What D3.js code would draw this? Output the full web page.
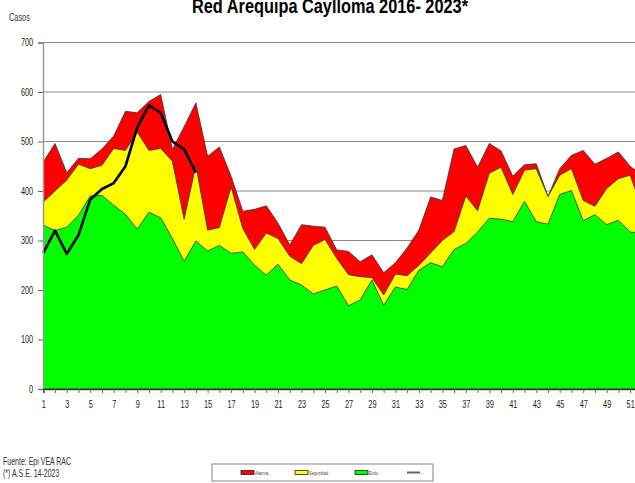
<!DOCTYPE html>
<html>
<head>
<meta charset="utf-8">
<script src="https://cdn.jsdelivr.net/npm/d3@7"></script>
<style>
  body { margin: 0; background: #fff; }
  text { font-family: "Liberation Sans", Arial, sans-serif; }
</style>
</head>
<body>
<div class="chart"></div>
<script>
// semanas epidemiologicas
const semanas = d3.range(1, 53);
const alarma = [459, 496, 437, 466, 465, 485, 511, 561, 558, 581, 595, 484, 530, 578, 470, 489,
                430, 359, 363, 370, 335, 291, 332, 329, 327, 281, 278, 257, 271, 235, 255, 285,
                321, 388, 381, 485, 492, 448, 496, 481, 430, 453, 455, 389, 445, 472, 482, 454,
                466, 479, 450, 432];
const seguridad = [378, 400, 422, 454, 445, 452, 486, 482, 519, 482, 486, 460, 343, 452, 321, 326,
                   408, 324, 282, 315, 304, 268, 253, 290, 302, 264, 231, 227, 225, 190, 232, 229,
                   250, 275, 300, 318, 390, 360, 436, 448, 393, 442, 445, 389, 432, 445, 381, 369,
                   405, 425, 432, 365];
const exito = [331, 320, 327, 351, 390, 391, 371, 353, 323, 357, 346, 304, 258, 299, 279, 290,
               274, 277, 250, 230, 252, 220, 210, 192, 200, 208, 168, 180, 220, 169, 206, 201,
               240, 255, 247, 282, 294, 317, 345, 343, 338, 379, 338, 333, 393, 401, 340, 352,
               332, 341, 317, 315];
const casos2023 = [275, 320, 273, 311, 383, 404, 416, 450, 528, 573, 558, 500, 484, 437];
const yTicks = [0, 100, 200, 300, 400, 500, 600, 700];
const xTicks = d3.range(1, 52, 2);
const leyenda = ["Alarma", "Seguridad", "Exito", "-"];
const colores = ["#ff0000", "#ffff00", "#00ff00"];

const width = 635, height = 483;
const narrow = 0.7;   // fuente condensada
const svg = d3.select('.chart')
              .append('svg')
              .attr('width', width)
              .attr('height', height);

const x = d3.scaleLinear().domain([1, 52]).range([43.3, 641.9]);
const y = d3.scaleLinear().domain([0, 700]).range([389, 42.5]);

svg.append("clipPath").attr("id", "plot")
   .append("rect").attr("x", 43).attr("y", 0).attr("width", 592).attr("height", 390);

// grid
svg.append("g")
   .selectAll("line")
   .data(yTicks.filter(d => d > 0))
   .enter().append("line")
   .attr("x1", 43).attr("x2", width)
   .attr("y1", d => y(d)).attr("y2", d => y(d))
   .attr("stroke", "#8c8c8c").attr("stroke-width", 1.2);

// canales
const series = [alarma, seguridad, exito];
const area = d3.area().x((d, i) => x(semanas[i])).y0(y(0)).y1(d => y(d));
svg.append("g").attr("clip-path", "url(#plot)")
   .selectAll("path")
   .data(series)
   .enter().append("path")
   .attr("d", area)
   .attr("fill", (d, i) => colores[i])
   .attr("stroke", "#333")
   .attr("stroke-width", 0.8)
   .attr("stroke-linejoin", "round");

// casos 2023
svg.append("path")
   .datum(casos2023)
   .attr("d", d3.line().x((d, i) => x(semanas[i])).y(d => y(d)))
   .attr("fill", "none")
   .attr("stroke", "#000")
   .attr("stroke-width", 2.6)
   .attr("stroke-linejoin", "round");

// eje y
const yAxis = svg.append("g")
   .attr("transform", "translate(43,0)")
   .call(d3.axisLeft(y).tickValues(yTicks).tickSize(5).tickPadding(9));
yAxis.select(".domain").attr("stroke", "#9a9a9a").attr("stroke-width", 1.5);
yAxis.selectAll(".tick line").attr("stroke", "#666");
yAxis.selectAll("text").attr("font-size", 10.5).attr("fill", "#222")
     .attr("transform", "scale(" + narrow + ",1)");

// eje x
const xAxis = svg.append("g")
   .attr("transform", "translate(0," + y(0) + ")")
   .call(d3.axisBottom(x).tickValues(semanas).tickSize(4).tickPadding(8)
           .tickFormat(d => xTicks.includes(d) ? d : ""));
xAxis.select(".domain").attr("stroke", "#333").attr("stroke-width", 1.5);
xAxis.selectAll(".tick line").attr("stroke", "#666");
xAxis.selectAll("text").attr("font-size", 10.5).attr("fill", "#222")
     .attr("transform", "scale(" + narrow + ",1)");

// textos
function label(t, px, py, size, opts) {
  const el = svg.append("text")
     .attr("transform", "translate(" + px + "," + py + ") scale(" + narrow + ",1)")
     .attr("font-size", size).attr("fill", "#333")
     .text(t);
  return el;
}
svg.append("text")
   .attr("x", 192).attr("y", 12.5)
   .attr("font-size", 20).attr("font-weight", "bold")
   .attr("textLength", 276).attr("lengthAdjust", "spacingAndGlyphs")
   .text("Red Arequipa Caylloma 2016- 2023*");
label("Casos", 9, 21, 10.5);
label("Fuente: Epi VEA RAC", 3, 465, 10);
label("(*) A.S.E. 14-2023", 3, 477, 10);

// leyenda
const leg = svg.append("g");
leg.append("rect")
   .attr("x", 212).attr("y", 464).attr("width", 221).attr("height", 17)
   .attr("fill", "#fff").attr("stroke", "#9a9a9a").attr("stroke-width", 1.2);
const legX = [241, 295, 355, 407];
leyenda.forEach((t, i) => {
  if (i < 3) {
    leg.append("rect")
       .attr("x", legX[i]).attr("y", 470.5).attr("width", 13).attr("height", 4)
       .attr("fill", colores[i]).attr("stroke", "#222").attr("stroke-width", 0.8);
  } else {
    leg.append("line")
       .attr("x1", legX[i]).attr("x2", legX[i] + 13)
       .attr("y1", 472.5).attr("y2", 472.5)
       .attr("stroke", "#666").attr("stroke-width", 2);
  }
  leg.append("text")
     .attr("transform", "translate(" + (legX[i] + 14) + ",474.5) scale(" + narrow + ",1)")
     .attr("font-size", 6).attr("fill", "#444")
     .text(t);
});
</script>
</body>
</html>
